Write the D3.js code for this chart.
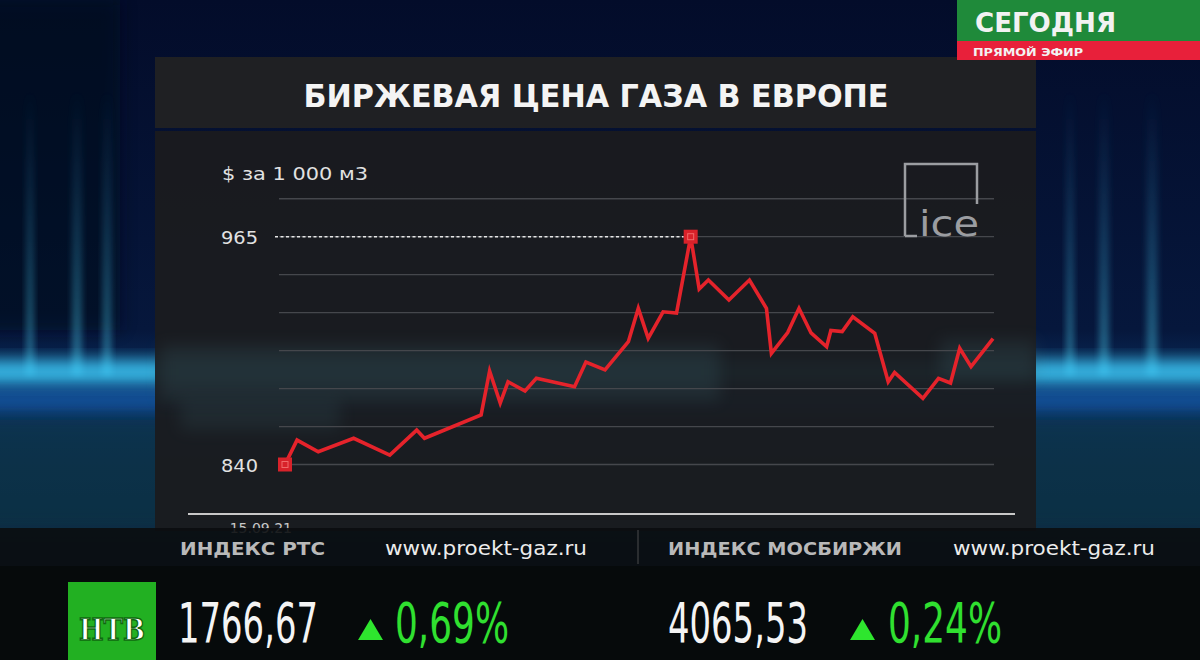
<!DOCTYPE html>
<meta charset="utf-8">
<head>
<title>Биржевая цена газа в Европе</title>
<style>
body { margin: 0; background-color: #030a1c; overflow: hidden; }
text { font-family: 'DejaVu Sans', sans-serif; }
.grid line { stroke: #45474c; stroke-width: 1.3px; }
.ylab { fill: #e2e2e2; font-size: 17px; }
.tick-head { fill: #b9b9b9; font-size: 18px; font-weight: bold; }
.tick-url { fill: #ececec; font-size: 20px; }
</style>
</head>
<body>
<div id="chart"></div>
<script src="https://cdn.jsdelivr.net/npm/d3@7"></script>
<script>
// price, $ per 1000 m3 (x = position along the period, 0..100)
var times  = [0, 1.7, 4.7, 9.7, 14.8, 18.6, 19.7, 27.7, 28.9, 30.4, 31.5, 33.9, 35.5, 40.9, 42.5, 45.2,
              48.5, 49.9, 51.3, 53.4, 55.3, 57.3, 58.5, 59.8, 62.7, 65.6, 68.0, 68.7, 71.0, 72.6, 74.3,
              76.5, 77.1, 78.7, 80.2, 83.3, 85.2, 86.1, 90.1, 92.3, 94.0, 95.3, 96.9, 100];
var prices = [840, 853.4, 847.0, 854.4, 845.2, 858.9, 854.4, 867.2, 891.3, 873.7, 885.4, 880.3, 887.3, 882.7, 896.2, 891.9,
              907.4, 925.7, 909.2, 923.8, 923.1, 965, 936.3, 941.2, 930.3, 941.2, 925.7, 901.0, 912.4, 925.7, 912.2,
              904.6, 913.5, 912.9, 921.1, 912.0, 885.4, 890.5, 876.3, 887.3, 884.7, 903.8, 893.7, 909.1];
var yLabels = [840, 965];
var xLabels = ["15.09.21"];
var title = "БИРЖЕВАЯ ЦЕНА ГАЗА В ЕВРОПЕ";
var unit = "$ за 1 000 м3";
var tickerNames = ["ИНДЕКС РТС", "ИНДЕКС МОСБИРЖИ"];
var tickerValues = ["1766,67", "4065,53"];
var tickerChanges = ["0,69%", "0,24%"];

var width = 1200, height = 660;
var svg = d3.select("#chart").append("svg").attr("width", width).attr("height", height);
var defs = svg.append("defs");
defs.append("filter").attr("id", "blur8").attr("x", "-50%").attr("y", "-50%").attr("width", "200%").attr("height", "200%")
    .append("feGaussianBlur").attr("stdDeviation", 8);
defs.append("filter").attr("id", "blur3").attr("x", "-50%").attr("y", "-50%").attr("width", "200%").attr("height", "200%")
    .append("feGaussianBlur").attr("stdDeviation", 3);
var bg = defs.append("linearGradient").attr("id", "bg").attr("x1", 0).attr("y1", 0).attr("x2", 0).attr("y2", 1);
bg.append("stop").attr("offset", "0").attr("stop-color", "#030c2a");
bg.append("stop").attr("offset", "0.5").attr("stop-color", "#06173c");
bg.append("stop").attr("offset", "0.6").attr("stop-color", "#0a3566");
bg.append("stop").attr("offset", "0.7").attr("stop-color", "#0b2c50");
bg.append("stop").attr("offset", "1").attr("stop-color", "#06202c");
var pg = defs.append("linearGradient").attr("id", "pillar").attr("x1", 0).attr("y1", 0).attr("x2", 0).attr("y2", 1);
pg.append("stop").attr("offset", "0").attr("stop-color", "#2a7fb0").attr("stop-opacity", 0);
pg.append("stop").attr("offset", "1").attr("stop-color", "#47c2e0").attr("stop-opacity", 0.8);

// studio background
svg.append("rect").attr("width", width).attr("height", height).attr("fill", "url(#bg)");
svg.append("rect").attr("x", -20).attr("y", 0).attr("width", 140).attr("height", 330).attr("fill", "#020a1e").attr("opacity", 0.6).attr("filter", "url(#blur8)");
var pillars = [[30, 8], [77, 10], [107, 9], [1070, 8], [1104, 10], [1152, 11]];
svg.selectAll(".pillar").data(pillars).enter().append("rect")
    .attr("x", function(d) { return d[0] - d[1] / 2; }).attr("y", 90).attr("width", function(d) { return d[1]; })
    .attr("height", 285).attr("fill", "url(#pillar)").attr("opacity", 0.6).attr("filter", "url(#blur3)");
svg.append("rect").attr("x", -20).attr("y", 360).attr("width", 1240).attr("height", 24).attr("fill", "#3fd0ff").attr("opacity", 0.85).attr("filter", "url(#blur8)");
svg.append("rect").attr("x", -20).attr("y", 390).attr("width", 1240).attr("height", 20).attr("fill", "#1c66c0").attr("opacity", 0.6).attr("filter", "url(#blur8)");
svg.append("rect").attr("x", -20).attr("y", 420).attr("width", 1240).attr("height", 110).attr("fill", "#0d3444").attr("opacity", 0.6).attr("filter", "url(#blur8)");

// panel
svg.append("rect").attr("x", 155).attr("y", 57).attr("width", 881).attr("height", 71).attr("fill", "#1f2023");
svg.append("rect").attr("x", 155).attr("y", 131).attr("width", 881).attr("height", 400).attr("fill", "#1a1b1f").attr("opacity", 0.95);
svg.append("rect").attr("x", 160).attr("y", 345).attr("width", 560).attr("height", 55).attr("fill", "#3e6670").attr("opacity", 0.22).attr("filter", "url(#blur8)");
svg.append("rect").attr("x", 180).attr("y", 400).attr("width", 160).attr("height", 30).attr("fill", "#3e6670").attr("opacity", 0.18).attr("filter", "url(#blur8)");
svg.append("rect").attr("x", 940).attr("y", 340).attr("width", 96).attr("height", 40).attr("fill", "#3e6670").attr("opacity", 0.22).attr("filter", "url(#blur8)");

svg.append("text").attr("x", 596).attr("y", 107).attr("text-anchor", "middle")
    .attr("textLength", 585).attr("lengthAdjust", "spacingAndGlyphs")
    .style("font-size", "32px").style("font-weight", "bold").attr("fill", "#f4f4f4").text(title);

var x = d3.scaleLinear().domain([0, 100]).range([285, 993]);
var y = d3.scaleLinear().domain([840, 965]).range([464.5, 236.7]);
var step = (965 - 840) / 6;
var gridVals = d3.range(0, 8).map(function(i) { return 840 + i * step; });

svg.append("g").attr("class", "grid").selectAll("line").data(gridVals).enter().append("line")
    .attr("x1", 279).attr("x2", 994)
    .attr("y1", function(d) { return y(d); }).attr("y2", function(d) { return y(d); });

// ICE logo
var logo = svg.append("g").attr("fill", "none").attr("stroke", "#9b9da1").attr("stroke-width", 2.5);
logo.append("path").attr("d", "M905,236 L905,164 L977,164 L977,204");
logo.append("path").attr("d", "M905,236 L917,236");
svg.append("text").attr("x", 919).attr("y", 236).attr("fill", "#9b9da1").style("font-size", "36px")
    .attr("textLength", 60).attr("lengthAdjust", "spacingAndGlyphs").text("ice");

svg.append("text").attr("x", 222).attr("y", 180).attr("class", "ylab")
    .attr("textLength", 146).attr("lengthAdjust", "spacingAndGlyphs").text(unit);
svg.selectAll(".yl").data(yLabels).enter().append("text").attr("class", "ylab")
    .attr("x", 221).attr("y", function(d) { return y(d) + 7; })
    .attr("textLength", 37).attr("lengthAdjust", "spacingAndGlyphs").text(function(d) { return d; });

// dotted line to the maximum
var iMax = prices.indexOf(d3.max(prices));
svg.append("line").attr("x1", 275).attr("x2", x(times[iMax]) - 7)
    .attr("y1", y(prices[iMax])).attr("y2", y(prices[iMax]))
    .attr("stroke", "#e6e6e6").attr("stroke-width", 1.5).attr("stroke-dasharray", "3,2.5");

// bottom axis
svg.append("line").attr("x1", 188).attr("x2", 1015).attr("y1", 514).attr("y2", 514)
    .attr("stroke", "#c8c8c8").attr("stroke-width", 2);
svg.selectAll(".xl").data(xLabels).enter().append("text").attr("x", x(0) + 7).attr("y", 533)
    .attr("text-anchor", "end").attr("fill", "#c8c8c8").style("font-size", "14px").text(function(d) { return d; });

var line = d3.line().x(function(d, i) { return x(times[i]); }).y(function(d) { return y(d); });
svg.append("path").datum(prices).attr("d", line).attr("fill", "none")
    .attr("stroke", "#e5232b").attr("stroke-width", 3.6).attr("stroke-linejoin", "miter");

var marks = [0, iMax];
var mk = svg.selectAll(".mk").data(marks).enter().append("g")
    .attr("transform", function(i) { return "translate(" + x(times[i]) + "," + y(prices[i]) + ")"; });
mk.append("rect").attr("x", -7).attr("y", -7).attr("width", 14).attr("height", 14).attr("fill", "#d8222a");
mk.append("rect").attr("x", -3).attr("y", -3).attr("width", 6).attr("height", 6).attr("fill", "none")
    .attr("stroke", "#f06a6a").attr("stroke-width", 1);

// ticker
svg.append("rect").attr("x", 0).attr("y", 528).attr("width", width).attr("height", 38).attr("fill", "#0b0d0f").attr("opacity", 0.9);
svg.append("rect").attr("x", 0).attr("y", 566).attr("width", width).attr("height", 94).attr("fill", "#060a0b");
svg.append("line").attr("x1", 638).attr("x2", 638).attr("y1", 530).attr("y2", 564).attr("stroke", "#2a2d30").attr("stroke-width", 2);

var heads = [[180, 145], [668, 234]];
var urls = [385, 953];
var vals = [178, 668];
var tris = [358, 850];
var chg = [395, 888];
tickerNames.forEach(function(n, i) {
    svg.append("text").attr("class", "tick-head").attr("x", heads[i][0]).attr("y", 555)
        .attr("textLength", heads[i][1]).attr("lengthAdjust", "spacingAndGlyphs").text(n);
    svg.append("text").attr("class", "tick-url").attr("x", urls[i]).attr("y", 555)
        .attr("textLength", 202).attr("lengthAdjust", "spacingAndGlyphs").text("www.proekt-gaz.ru");
    svg.append("text").attr("x", vals[i]).attr("y", 642).attr("fill", "#f4f4f4").style("font-size", "56px")
        .attr("textLength", 140).attr("lengthAdjust", "spacingAndGlyphs").text(tickerValues[i]);
    svg.append("path").attr("d", "M" + tris[i] + ",640 L" + (tris[i] + 25) + ",640 L" + (tris[i] + 12.5) + ",619 Z").attr("fill", "#2ee62e");
    svg.append("text").attr("x", chg[i]).attr("y", 642).attr("fill", "#30e030").style("font-size", "56px")
        .attr("textLength", 114).attr("lengthAdjust", "spacingAndGlyphs").text(tickerChanges[i]);
});

// NTV logo
svg.append("rect").attr("x", 68).attr("y", 582).attr("width", 88).attr("height", 78).attr("fill", "#22b022");
svg.append("text").attr("x", 112).attr("y", 640).attr("text-anchor", "middle").attr("fill", "#ffffff")
    .attr("stroke", "#0f6a0f").attr("stroke-width", 1.5)
    .style("font-family", "'DejaVu Serif', serif").style("font-weight", "bold").style("font-size", "30px")
    .attr("textLength", 66).attr("lengthAdjust", "spacingAndGlyphs").text("НТВ");

// channel badge
svg.append("rect").attr("x", 957).attr("y", 0).attr("width", 243).attr("height", 41).attr("fill", "#1f8a3a");
svg.append("rect").attr("x", 957).attr("y", 41).attr("width", 243).attr("height", 19).attr("fill", "#e8203a");
svg.append("text").attr("x", 975).attr("y", 32).attr("fill", "#f2f2f2").style("font-size", "27px").style("font-weight", "bold")
    .attr("textLength", 141).attr("lengthAdjust", "spacingAndGlyphs").text("СЕГОДНЯ");
svg.append("text").attr("x", 973).attr("y", 56).attr("fill", "#f2f2f2").style("font-size", "10px").style("font-weight", "bold")
    .attr("textLength", 110).attr("lengthAdjust", "spacingAndGlyphs").text("ПРЯМОЙ ЭФИР");
</script>
</body>
